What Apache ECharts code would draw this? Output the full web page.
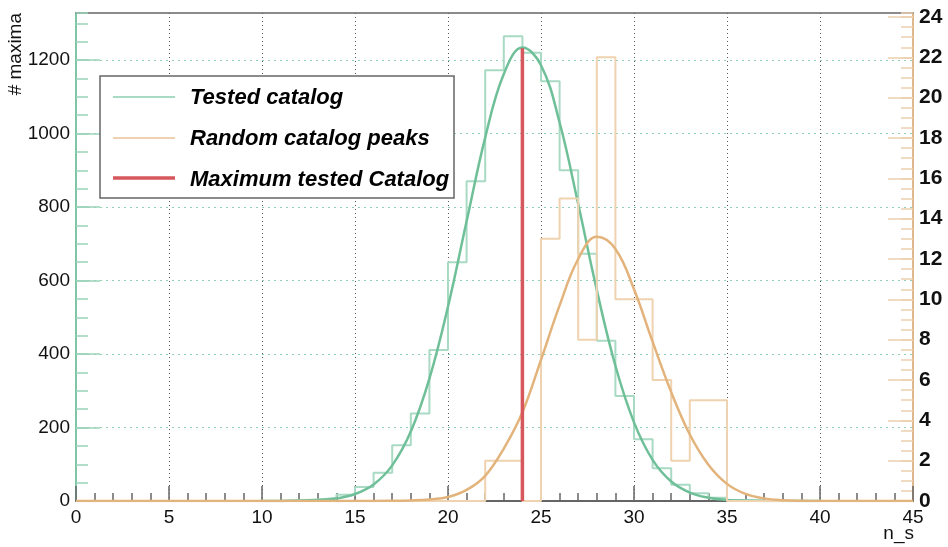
<!DOCTYPE html>
<html><head><meta charset="utf-8">
<script src="https://cdn.jsdelivr.net/npm/echarts@6/dist/echarts.min.js"></script>
<style>html,body{margin:0;padding:0;background:#fff}#c{width:948px;height:547px}</style>
</head><body><div id="c"></div>
<script>
// ---- data ----
const binEdges = [0,1,2,3,4,5,6,7,8,9,10,11,12,13,14,15,16,17,18,19,20,21,22,23,24,25,26,27,28,29,30,31,32,33,34,35,36,37,38,39,40,41,42,43,44,45];
// Tested catalog histogram (left axis, # maxima), one value per unit bin [edge, edge+1)
const testedCounts = [0,0,0,0,0,0,0,0,0,0,0,2,4,8,17,38,77,152,238,411,650,870,1172,1265,1220,1142,900,673,436,286,168,89,44,21,9,3,1,0,0,0,0,0,0,0,0];
// Random catalog peaks histogram (right axis)
const randomCounts = [0,0,0,0,0,0,0,0,0,0,0,0,0,0,0,0,0,0,0,0,0,0,2,2,0,13,15,8,22,10,10,6,2,5,5,0,0,0,0,0,0,0,0,0,0];
// Fit curves
const testedFitX = [10,11,12,13,14,15,16,17,18,19,20,21,22,23,24,25,26,27,28,29,30,31,32,33,34,35,36,37,38,39,40];
const testedFitY = [0,0.3,1,2.5,7,19,45,97,189,333,529,761,989,1162,1234,1186,1030,808,574,368,214,112,53,23,9,3,1,0.3,0.1,0,0];
const randomFitX = [0,10,15,16,17,18,19,20,21,22,23,24,25,26,27,28,29,30,31,32,33,34,35,36,37,38,39,40,45];
const randomFitY = [0,0,0,0,0.01,0.03,0.08,0.2,0.55,1.25,2.6,4.4,7.0,9.7,12.0,13.1,12.5,10.5,7.9,5.4,3.3,1.8,0.85,0.35,0.13,0.04,0.01,0,0];
// Maximum of tested catalog
const maxTestedX = 24;
const maxTestedY = 1232;
// axes
const leftMax = 1328, rightMax = 24.2;
const xTicks = {min:0, max:45, interval:5};

const FONT = '"Liberation Sans", Arial, Helvetica, sans-serif';
function stepData(edges, counts){
  const d=[];
  for(let i=0;i<counts.length;i++) d.push([edges[i],counts[i]]);
  d.push([edges[counts.length], counts[counts.length-1]]);
  return d;
}
function pairs(xs, ys){ return xs.map((x,i)=>[x,ys[i]]); }
const plain = v => String(v);

const GREEN='#6fbf98', GREEN_L='#a9dac3', TAN='#e3b37c', TAN_L='#efd2b0', RED='#d6575c';

const chart = echarts.init(document.getElementById('c'), null, {renderer:'canvas'});
chart.setOption({
  animation:false,
  backgroundColor:'#fff',
  grid:{left:76,right:35,top:13,bottom:46},
  xAxis:[{
    type:'value', min:xTicks.min, max:xTicks.max, interval:xTicks.interval, position:'bottom',
    axisLine:{show:true,onZero:false,lineStyle:{color:'#333',width:1.5}},
    axisTick:{show:true,inside:true,length:15,lineStyle:{color:'#666',width:1.5}},
    minorTick:{show:true,splitNumber:5,length:8,lineStyle:{color:'#666',width:1.5}},
    axisLabel:{margin:7,fontSize:19,color:'#111',fontFamily:FONT,formatter:plain},
    splitLine:{show:true,showMinLine:false,showMaxLine:false,lineStyle:{color:'#555',type:[1,3],width:1}}
  },{
    type:'value', min:xTicks.min, max:xTicks.max, position:'top',
    axisLine:{show:true,onZero:false,lineStyle:{color:'#666',width:1.5}},
    axisTick:{show:false}, axisLabel:{show:false}, splitLine:{show:false}
  }],
  yAxis:[{
    type:'value', min:0, max:leftMax, interval:200, position:'left',
    axisLine:{show:true,onZero:false,lineStyle:{color:'#80c6a6',width:2}},
    axisTick:{show:true,inside:true,length:24,lineStyle:{color:'#9bd3b9',width:1.5}},
    axisLabel:{margin:6,fontSize:19,color:'#111',fontFamily:FONT,showMaxLabel:false,formatter:plain},
    splitLine:{show:true,showMinLine:false,showMaxLine:false,lineStyle:{color:'#8fd0b3',type:[2,4],width:1}}
  },{
    type:'value', min:0, max:rightMax, interval:2, position:'right',
    axisLine:{show:true,onZero:false,lineStyle:{color:'#dfb78c',width:2}},
    axisTick:{show:true,inside:true,length:25,lineStyle:{color:'#ecd0b0',width:1.5}},
    axisLabel:{margin:6,fontSize:21,fontWeight:'bold',color:'#111',fontFamily:FONT,showMaxLabel:false,formatter:plain},
    splitLine:{show:false}
  },{
    type:'value', min:0, max:leftMax, interval:50, position:'left',
    axisLine:{show:false,onZero:false}, axisLabel:{show:false}, splitLine:{show:false},
    axisTick:{show:true,inside:true,length:12,lineStyle:{color:'#9bd3b9',width:1.5}}
  },{
    type:'value', min:0, max:rightMax, interval:0.5, position:'right',
    axisLine:{show:false,onZero:false}, axisLabel:{show:false}, splitLine:{show:false},
    axisTick:{show:true,inside:true,length:12,lineStyle:{color:'#ecd0b0',width:1.5}}
  }],
  series:[
    {name:'Tested catalog', type:'line', xAxisIndex:0, yAxisIndex:0, step:'end', symbol:'none',
     data:stepData(binEdges,testedCounts), lineStyle:{color:GREEN_L,width:2}, z:2},
    {name:'Tested fit', type:'line', xAxisIndex:0, yAxisIndex:0, smooth:0.4, symbol:'none',
     data:pairs(testedFitX,testedFitY), lineStyle:{color:GREEN,width:2.5}, z:3},
    {name:'Random catalog peaks', type:'line', xAxisIndex:0, yAxisIndex:1, step:'end', symbol:'none',
     data:stepData(binEdges,randomCounts), lineStyle:{color:TAN_L,width:2}, z:4},
    {name:'Random fit', type:'line', xAxisIndex:0, yAxisIndex:1, smooth:0.4, symbol:'none',
     data:pairs(randomFitX,randomFitY), lineStyle:{color:TAN,width:2.5}, z:5},
    {name:'Maximum tested Catalog', type:'line', xAxisIndex:0, yAxisIndex:0, symbol:'none',
     data:[[maxTestedX,0],[maxTestedX,maxTestedY]], lineStyle:{color:RED,width:3.5}, z:6}
  ],
  graphic:[
    {type:'rect', z:100, shape:{x:100,y:76,width:354,height:122}, style:{fill:'#fff',stroke:'#666',lineWidth:1.5}},
    {type:'line', z:101, shape:{x1:113,y1:97,x2:175,y2:97}, style:{stroke:GREEN_L,lineWidth:2}},
    {type:'line', z:101, shape:{x1:113,y1:138,x2:175,y2:138}, style:{stroke:TAN_L,lineWidth:2}},
    {type:'line', z:101, shape:{x1:113,y1:178,x2:175,y2:178}, style:{stroke:RED,lineWidth:3.5}},
    {type:'text', z:101, x:190, y:98, style:{text:'Tested catalog',font:'italic bold 22px '+FONT,fill:'#000',align:'left',verticalAlign:'middle'}},
    {type:'text', z:101, x:190, y:139, style:{text:'Random catalog peaks',font:'italic bold 22px '+FONT,fill:'#000',align:'left',verticalAlign:'middle'}},
    {type:'text', z:101, x:190, y:180, style:{text:'Maximum tested Catalog',font:'italic bold 22px '+FONT,fill:'#000',align:'left',verticalAlign:'middle'}},
    {type:'text', z:101, x:16, y:13, rotation:Math.PI/2, style:{text:'# maxima',font:'19px '+FONT,fill:'#111',align:'right',verticalAlign:'middle'}},
    {type:'text', z:101, x:914, y:534, style:{text:'n_s',font:'19px '+FONT,fill:'#111',align:'right',verticalAlign:'middle'}}
  ]
});
</script>
</body></html>
